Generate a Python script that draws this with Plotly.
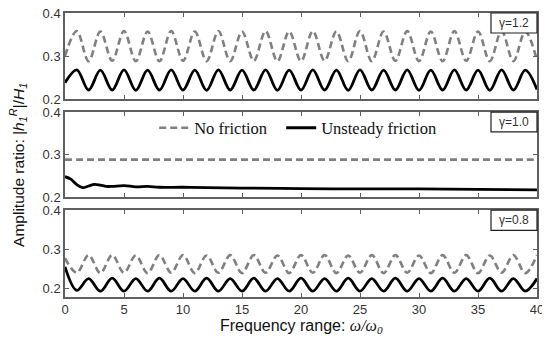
import plotly.graph_objects as go

# ---------------- data ----------------
freq = list(range(0, 41))  # omega / omega_0

# gamma = 1.2 (top panel)
top_no_friction = [0.300, 0.358, 0.288, 0.357, 0.289, 0.358, 0.288, 0.357, 0.288, 0.358,
                   0.289, 0.357, 0.288, 0.358, 0.288, 0.357, 0.289, 0.358, 0.288, 0.357,
                   0.288, 0.358, 0.289, 0.357, 0.288, 0.358, 0.288, 0.357, 0.289, 0.358,
                   0.288, 0.357, 0.288, 0.358, 0.289, 0.357, 0.288, 0.358, 0.288, 0.357,
                   0.290]
top_unsteady = [0.238, 0.268, 0.221, 0.267, 0.221, 0.268, 0.220, 0.267, 0.221, 0.268,
                0.221, 0.267, 0.220, 0.268, 0.221, 0.267, 0.221, 0.268, 0.220, 0.267,
                0.221, 0.268, 0.221, 0.267, 0.220, 0.268, 0.221, 0.267, 0.221, 0.268,
                0.220, 0.267, 0.221, 0.268, 0.221, 0.267, 0.220, 0.268, 0.221, 0.267,
                0.222]

# gamma = 1.0 (middle panel)
mid_no_friction = [0.288, 0.288, 0.288, 0.288, 0.288, 0.288, 0.288, 0.288, 0.288, 0.288,
                   0.288, 0.288, 0.288, 0.288, 0.288, 0.288, 0.288, 0.288, 0.288, 0.288,
                   0.288, 0.288, 0.288, 0.288, 0.288, 0.288, 0.288, 0.288, 0.288, 0.288,
                   0.288, 0.288, 0.288, 0.288, 0.288, 0.288, 0.288, 0.288, 0.288, 0.288,
                   0.288]
mid_freq = [0, 0.5, 1, 1.5, 2, 2.5, 3, 3.5, 4, 5, 6, 7, 8, 10, 12, 15, 20, 25, 30, 35, 40]
mid_unsteady = [0.248, 0.242, 0.229, 0.222, 0.226, 0.230, 0.228, 0.225, 0.225, 0.227,
                0.224, 0.225, 0.223, 0.223, 0.222, 0.221, 0.220, 0.219, 0.219, 0.218,
                0.217]

# gamma = 0.8 (bottom panel)
bot_no_friction = [0.277, 0.240, 0.285, 0.239, 0.285, 0.240, 0.284, 0.239, 0.285, 0.240,
                   0.285, 0.239, 0.284, 0.240, 0.285, 0.239, 0.285, 0.240, 0.284, 0.239,
                   0.285, 0.240, 0.285, 0.239, 0.284, 0.240, 0.285, 0.239, 0.285, 0.240,
                   0.284, 0.239, 0.285, 0.240, 0.285, 0.239, 0.284, 0.240, 0.285, 0.239,
                   0.285]
bot_unsteady = [0.255, 0.195, 0.225, 0.193, 0.226, 0.193, 0.225, 0.193, 0.226, 0.193,
                0.225, 0.193, 0.226, 0.193, 0.225, 0.193, 0.226, 0.193, 0.225, 0.193,
                0.226, 0.193, 0.225, 0.193, 0.226, 0.193, 0.225, 0.193, 0.226, 0.193,
                0.225, 0.193, 0.226, 0.193, 0.225, 0.193, 0.226, 0.193, 0.225, 0.193,
                0.225]

gamma_labels = ["γ=1.2", "γ=1.0", "γ=0.8"]
series_names = ["No friction", "Unsteady friction"]
x_ticks = [0, 5, 10, 15, 20, 25, 30, 35, 40]
y_ticks = [0.2, 0.3, 0.4]

# ---------------- figure ----------------
GRAY = "#808080"
BLACK = "#000000"
dash_style = "7px,4px"

fig = go.Figure()

panels = [
    ("x", "y", freq, top_no_friction, freq, top_unsteady, False),
    ("x2", "y2", freq, mid_no_friction, mid_freq, mid_unsteady, True),
    ("x3", "y3", freq, bot_no_friction, freq, bot_unsteady, False),
]
for xa, ya, xd, yd, xu, yu, show in panels:
    fig.add_trace(go.Scatter(x=xd, y=yd, xaxis=xa, yaxis=ya, mode="lines",
                             name=series_names[0], showlegend=show, legend="legend",
                             line=dict(color=GRAY, width=2.6, dash=dash_style, shape="spline")))
    fig.add_trace(go.Scatter(x=xu, y=yu, xaxis=xa, yaxis=ya, mode="lines",
                             name=series_names[1], showlegend=show, legend="legend2",
                             line=dict(color=BLACK, width=2.8, shape="spline")))

axis_common = dict(showline=True, linecolor="#606060", linewidth=1.5, mirror="ticks",
                   ticks="inside", ticklen=4, tickcolor="#606060", showgrid=False,
                   zeroline=False, automargin=False, ticklabeloverflow="allow",
                   tickfont=dict(family="Liberation Sans, Arial", size=13, color="#333333"))

domains = [[0.697, 1.0], [0.352, 0.651], [0.0, 0.306]]
yranges = [[0.2, 0.4], [0.2, 0.4], [0.178, 0.4]]
for i, (dom, yr) in enumerate(zip(domains, yranges)):
    sx = "" if i == 0 else str(i + 1)
    fig.layout["xaxis" + sx] = dict(axis_common, domain=[0, 1], range=[0, 40],
                                    tickvals=x_ticks, showticklabels=(i == 2),
                                    anchor="y" + sx)
    fig.layout["yaxis" + sx] = dict(axis_common, domain=dom, range=yr,
                                    tickvals=y_ticks, ticktext=[str(v) for v in y_ticks],
                                    anchor="x" + sx)
    # gamma label box
    xr = "x" + sx + " domain"
    yrr = "y" + sx + " domain"
    bw = 46 / 472
    bh = 20 / 86
    fig.add_shape(type="rect", xref=xr, yref=yrr, x0=1 - bw, x1=1, y0=1 - bh, y1=1,
                  line=dict(color="#202020", width=1.2), fillcolor="white", layer="above")
    fig.add_annotation(xref=xr, yref=yrr, x=1 - bw / 2, y=1 - bh / 2, text=gamma_labels[i],
                       showarrow=False, xanchor="center", yanchor="middle",
                       font=dict(family="Liberation Sans, Arial", size=12, color="#333333"))

# axis titles
fig.add_annotation(xref="paper", yref="paper", x=-0.0996, y=0.465, textangle=-90,
                   text="Amplitude ratio: |<i>h</i><sub><i>1</i></sub><sup><i>R</i></sup>|/<i>H</i><sub><i>1</i></sub>",
                   showarrow=False, xanchor="center", yanchor="middle",
                   font=dict(family="Liberation Sans, Arial", size=15.5, color="#111111"))
fig.add_annotation(xref="paper", yref="paper", x=0.5, y=-0.105,
                   text="Frequency range: <span style=\"font-family:'Liberation Serif'\"><i>ω/ω</i><sub><i>0</i></sub></span>",
                   showarrow=False, xanchor="center", yanchor="middle",
                   font=dict(family="Liberation Sans, Arial", size=16, color="#111111"))

legend_font = dict(family="Liberation Serif, Times New Roman", size=16.5, color="#111111")

# the page body adds an 8px offset, so the figure is sized to fit the visible window
fig.update_layout(
    width=542, height=341,
    margin=dict(l=57, r=13, t=5, b=52, autoexpand=False),
    paper_bgcolor="white", plot_bgcolor="white",
    legend=dict(orientation="h", x=0.189, y=0.595, xanchor="left", yanchor="middle",
                bgcolor="rgba(0,0,0,0)", borderwidth=0, font=legend_font),
    legend2=dict(orientation="h", x=0.458, y=0.595, xanchor="left", yanchor="middle",
                 bgcolor="rgba(0,0,0,0)", borderwidth=0, font=legend_font),
    showlegend=True,
)

fig.write_html("out.html")
